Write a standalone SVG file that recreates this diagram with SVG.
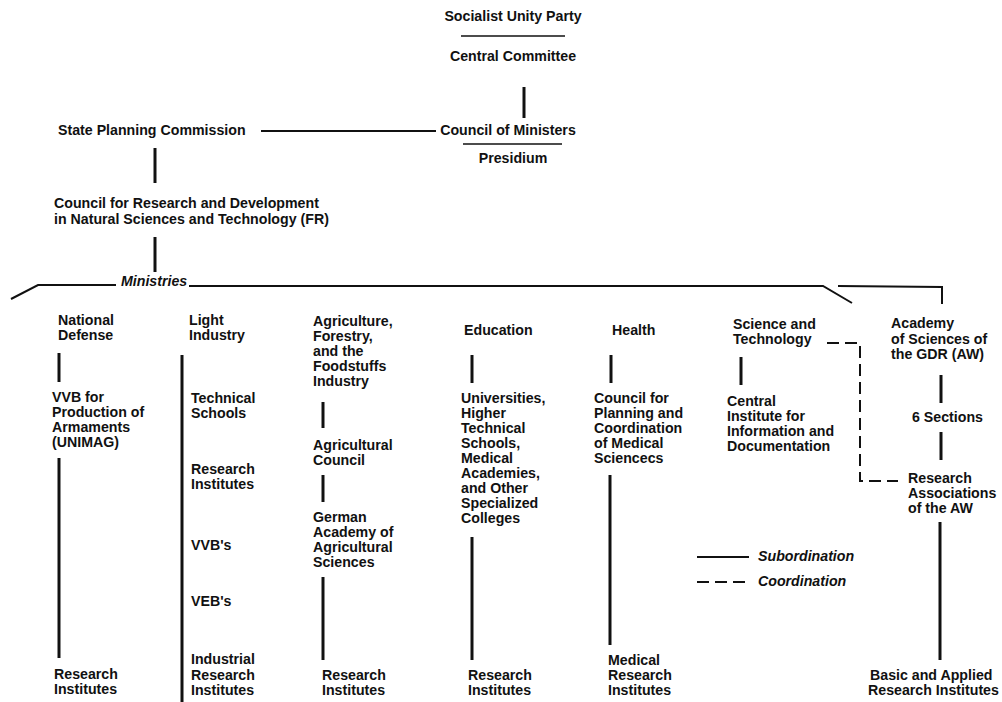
<svg xmlns="http://www.w3.org/2000/svg" width="1002" height="702" viewBox="0 0 1002 702">
<style>
text{font-family:"Liberation Sans",Arial,sans-serif;font-weight:bold;font-size:14.2px;fill:#111}
.c{text-anchor:middle}
.i{font-style:italic}
.v{stroke:#111;stroke-width:3;fill:none}
.h{stroke:#111;stroke-width:2;fill:none}
.u{stroke:#111;stroke-width:1.6;fill:none}
.d{stroke:#111;stroke-width:2;fill:none;stroke-dasharray:12 6}
</style>
<rect width="1002" height="702" fill="#fff"/>
<g id="connectors">
<line class="v" x1="524" y1="87" x2="524" y2="118"/>
<line class="h" x1="261" y1="131" x2="436" y2="131"/>
<line class="v" x1="155" y1="148" x2="155" y2="183"/>
<line class="v" x1="155" y1="237" x2="155" y2="272"/>
<path class="h" d="M11,299 L38,285 L116,285 M189,286 L823,286 L852,303 M838,286 L942,287 L942,304"/>
<line class="v" x1="59" y1="353" x2="59" y2="382"/>
<line class="v" x1="59" y1="458" x2="59" y2="658"/>
<line class="v" x1="182" y1="355" x2="182" y2="702"/>
<line class="v" x1="323" y1="402" x2="323" y2="428"/>
<line class="v" x1="323" y1="475" x2="323" y2="502"/>
<line class="v" x1="323" y1="577" x2="323" y2="660"/>
<line class="v" x1="472" y1="355" x2="472" y2="383"/>
<line class="v" x1="472" y1="537" x2="472" y2="660"/>
<line class="v" x1="611" y1="355" x2="611" y2="383"/>
<line class="v" x1="610" y1="475" x2="610" y2="645"/>
<line class="v" x1="741" y1="357" x2="741" y2="385"/>
<line class="v" x1="941" y1="375" x2="941" y2="403"/>
<line class="v" x1="941" y1="432" x2="941" y2="460"/>
<line class="v" x1="940" y1="522" x2="940" y2="660"/>
<path class="d" d="M827,343 L860,343 L860,481 L898,481"/>
</g>
<g id="party"><text class="c" x="513" y="21">Socialist Unity Party</text>
<line class="u" x1="461" y1="36" x2="565" y2="36"/>
<text class="c" x="513" y="61">Central Committee</text></g>
<g id="council-ministers"><text class="c" x="508" y="135">Council of Ministers</text>
<line class="u" x1="463" y1="144" x2="562" y2="144"/>
<text class="c" x="513" y="163">Presidium</text></g>
<g id="state-planning"><text x="58" y="135">State Planning Commission</text></g>
<g id="fr"><text x="54" y="208">Council for Research and Development</text><text x="54" y="224">in Natural Sciences and Technology (FR)</text></g>
<g id="ministries"><text class="i" x="121" y="286">Ministries</text></g>
<g id="national-defense"><text x="58" y="325">National</text><text x="58" y="340">Defense</text></g>
<g id="vvb-unimag"><text x="52" y="402">VVB for</text><text x="52" y="417">Production of</text><text x="52" y="432">Armaments</text><text x="52" y="447">(UNIMAG)</text></g>
<g id="nd-research"><text x="54" y="679">Research</text><text x="54" y="694">Institutes</text></g>
<g id="light-industry"><text x="189" y="325">Light</text><text x="189" y="340">Industry</text></g>
<g id="technical-schools"><text x="191" y="403">Technical</text><text x="191" y="418">Schools</text></g>
<g id="li-research"><text x="191" y="474">Research</text><text x="191" y="489">Institutes</text></g>
<g id="vvbs"><text x="191" y="550">VVB's</text></g>
<g id="vebs"><text x="191" y="606">VEB's</text></g>
<g id="industrial-research"><text x="191" y="664">Industrial</text><text x="191" y="680">Research</text><text x="191" y="695">Institutes</text></g>
<g id="agriculture"><text x="313" y="326">Agriculture,</text><text x="313" y="341">Forestry,</text><text x="313" y="356">and the</text><text x="313" y="371">Foodstuffs</text><text x="313" y="386">Industry</text></g>
<g id="agricultural-council"><text x="313" y="450">Agricultural</text><text x="313" y="465">Council</text></g>
<g id="german-academy"><text x="313" y="522">German</text><text x="313" y="537">Academy of</text><text x="313" y="552">Agricultural</text><text x="313" y="567">Sciences</text></g>
<g id="ag-research"><text x="322" y="680">Research</text><text x="322" y="695">Institutes</text></g>
<g id="education"><text x="464" y="335">Education</text></g>
<g id="universities"><text x="461" y="403">Universities,</text><text x="461" y="418">Higher</text><text x="461" y="433">Technical</text><text x="461" y="448">Schools,</text><text x="461" y="463">Medical</text><text x="461" y="478">Academies,</text><text x="461" y="493">and Other</text><text x="461" y="508">Specialized</text><text x="461" y="523">Colleges</text></g>
<g id="ed-research"><text x="468" y="680">Research</text><text x="468" y="695">Institutes</text></g>
<g id="health"><text x="612" y="335">Health</text></g>
<g id="medical-council"><text x="594" y="403">Council for</text><text x="594" y="418">Planning and</text><text x="594" y="433">Coordination</text><text x="594" y="448">of Medical</text><text x="594" y="463">Sciencecs</text></g>
<g id="medical-research"><text x="608" y="665">Medical</text><text x="608" y="680">Research</text><text x="608" y="695">Institutes</text></g>
<g id="science-tech"><text x="733" y="329">Science and</text><text x="733" y="344">Technology</text></g>
<g id="central-institute"><text x="727" y="406">Central</text><text x="727" y="421">Institute for</text><text x="727" y="436">Information and</text><text x="727" y="451">Documentation</text></g>
<g id="academy"><text x="891" y="328">Academy</text><text x="891" y="344">of Sciences of</text><text x="891" y="359">the GDR (AW)</text></g>
<g id="sections"><text x="912" y="422">6 Sections</text></g>
<g id="research-assoc"><text x="908" y="483">Research</text><text x="908" y="498">Associations</text><text x="908" y="513">of the AW</text></g>
<g id="basic-applied"><text x="870" y="680">Basic and Applied</text><text x="868" y="695">Research Institutes</text></g>
<g id="legend"><line class="h" x1="697" y1="557" x2="749" y2="557"/><text class="i" x="758" y="561">Subordination</text>
<line class="d" x1="697" y1="582" x2="749" y2="582"/><text class="i" x="758" y="586">Coordination</text></g>
</svg>
